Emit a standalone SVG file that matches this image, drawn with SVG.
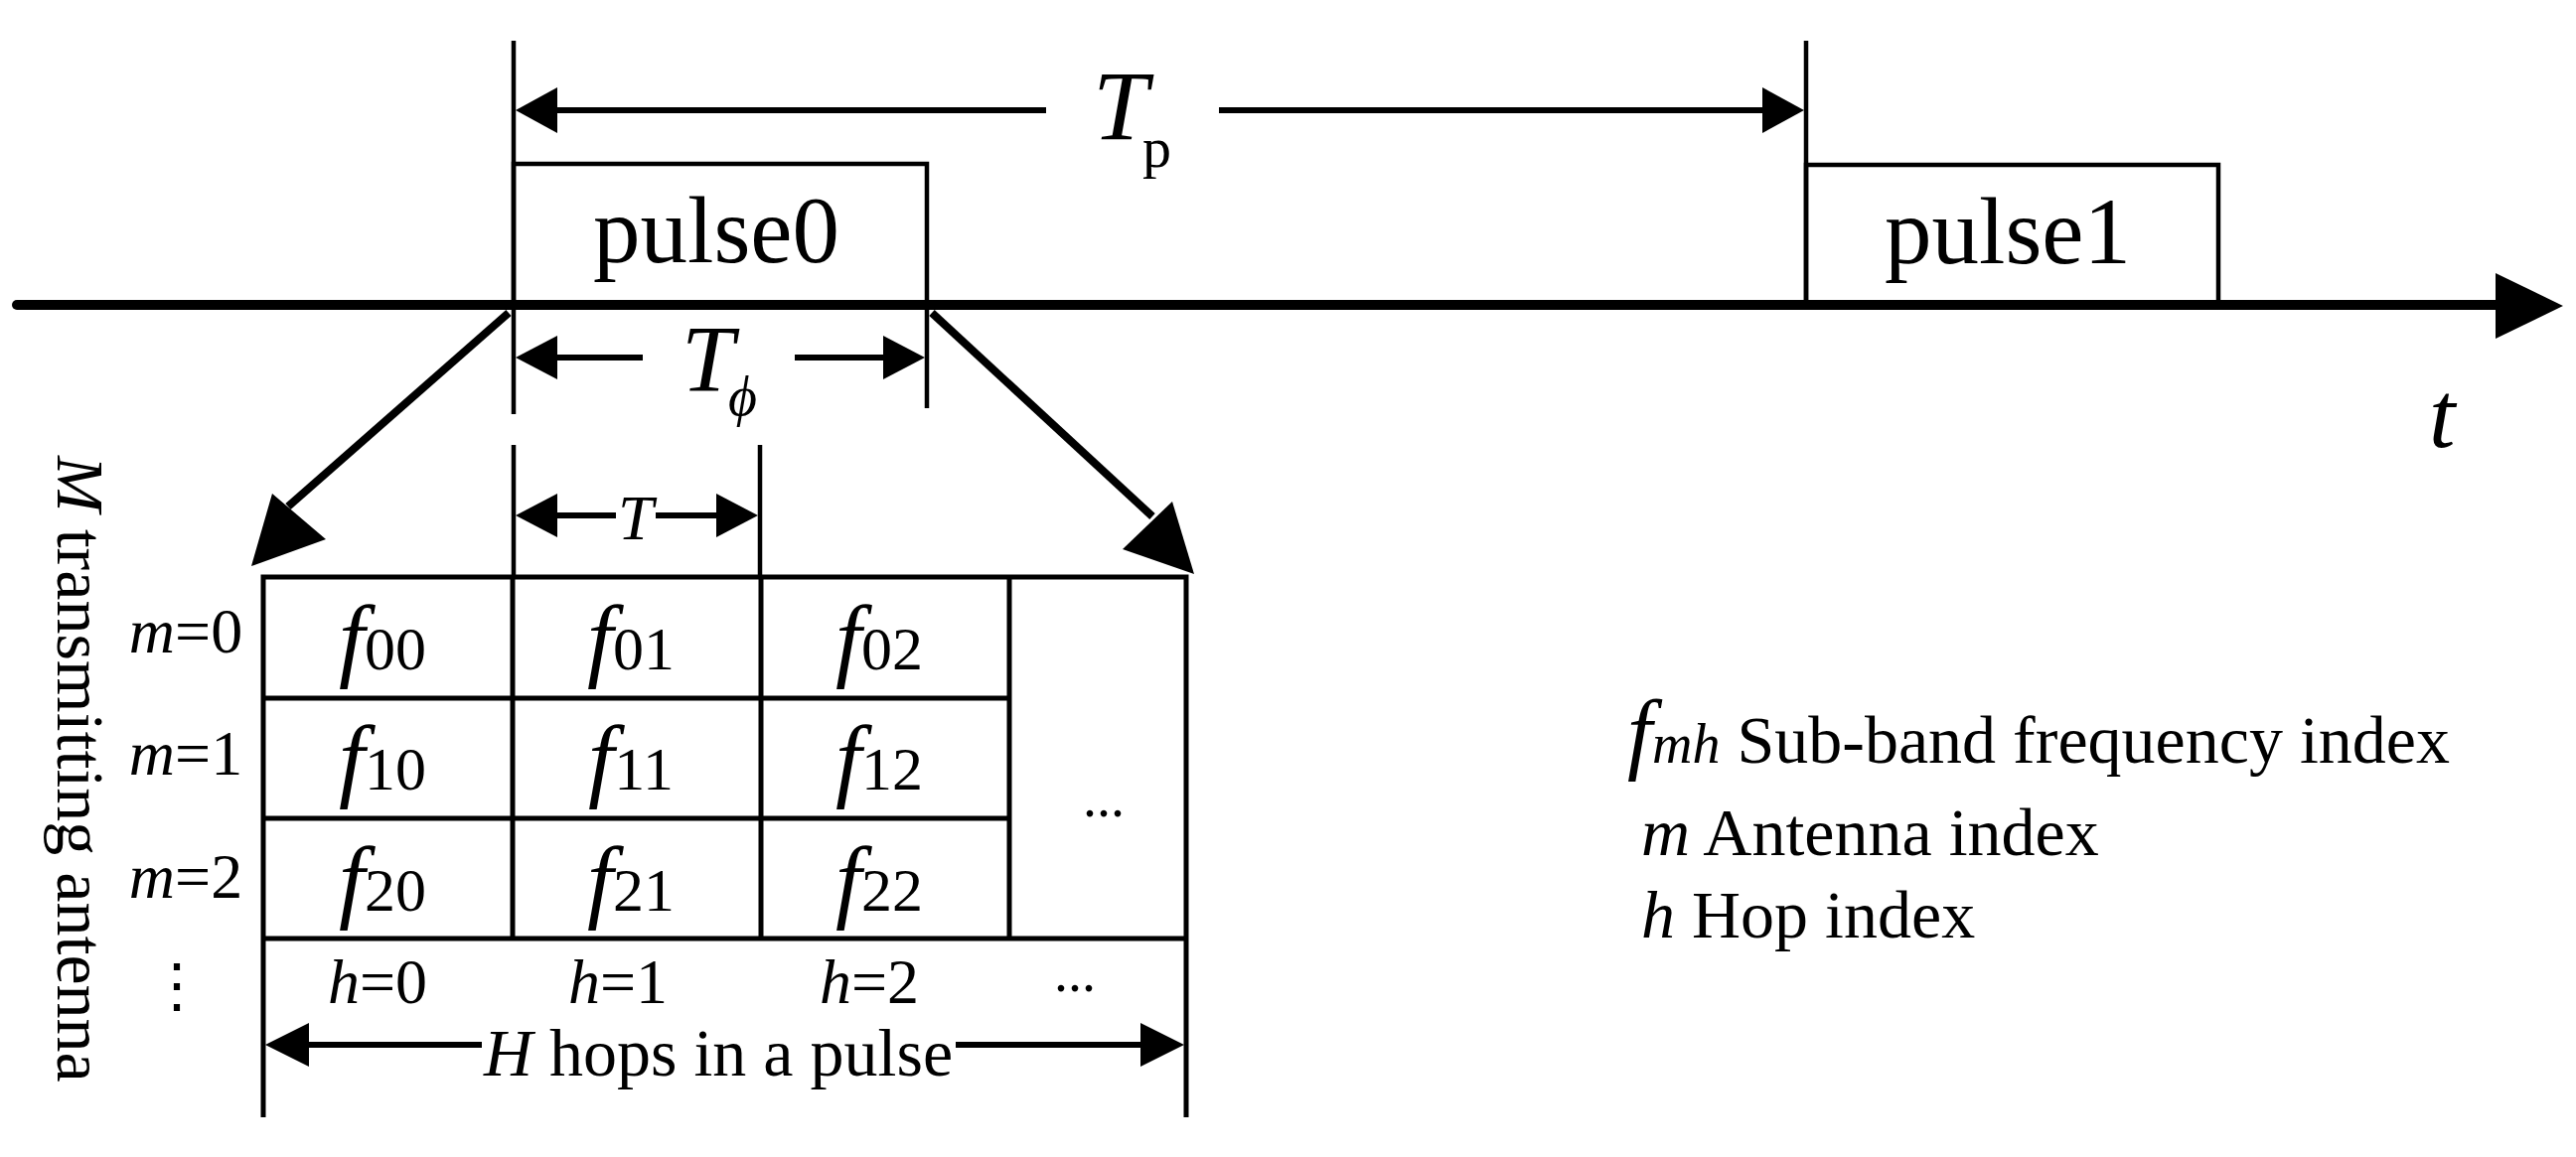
<svg xmlns="http://www.w3.org/2000/svg" width="2593" height="1165" viewBox="0 0 2593 1165">
<style>
text{font-family:"Liberation Serif","Times New Roman",serif;fill:#000}
.i{font-style:italic}
.thin{stroke:#000;stroke-width:4.5;fill:none}
.grid{stroke:#000;stroke-width:5;fill:none}
.ah{fill:#000}
</style>
<rect width="2593" height="1165" fill="#fff"/>
<g id="connectors">
<line x1="17" y1="307" x2="2520" y2="307" stroke="#000" stroke-width="10" stroke-linecap="round"/>
<path class="ah" d="M2580,308 L2512,275 L2512,341 Z"/>
<line class="thin" x1="517" y1="41" x2="517" y2="417"/>
<line class="thin" x1="1818" y1="41" x2="1818" y2="307"/>
<line class="thin" x1="933" y1="307" x2="933" y2="411"/>
<line x1="540" y1="111" x2="1053" y2="111" stroke="#000" stroke-width="6"/>
<line x1="1227" y1="111" x2="1795" y2="111" stroke="#000" stroke-width="6"/>
<path class="ah" d="M519,111 L561,88 L561,134 Z"/>
<path class="ah" d="M1816,111 L1774,88 L1774,134 Z"/>
<line x1="540" y1="360" x2="647" y2="360" stroke="#000" stroke-width="6"/>
<line x1="800" y1="360" x2="910" y2="360" stroke="#000" stroke-width="6"/>
<path class="ah" d="M519,360 L561,338 L561,382 Z"/>
<path class="ah" d="M931,360 L889,338 L889,382 Z"/>
<line class="thin" x1="517" y1="448" x2="517" y2="581"/>
<line class="thin" x1="765" y1="448" x2="765" y2="581"/>
<line x1="540" y1="519" x2="620" y2="519" stroke="#000" stroke-width="6"/>
<line x1="660" y1="519" x2="745" y2="519" stroke="#000" stroke-width="6"/>
<path class="ah" d="M519,519 L561,497 L561,541 Z"/>
<path class="ah" d="M763,519 L721,497 L721,541 Z"/>
<line x1="512" y1="315" x2="290" y2="510" stroke="#000" stroke-width="8"/>
<path class="ah" d="M253,570 L274,497 L328,543 Z"/>
<line x1="938" y1="315" x2="1160" y2="520" stroke="#000" stroke-width="8"/>
<path class="ah" d="M1202,578 L1130,553 L1180,505 Z"/>
<line x1="285" y1="1052" x2="485" y2="1052" stroke="#000" stroke-width="6"/>
<line x1="962" y1="1052" x2="1175" y2="1052" stroke="#000" stroke-width="6"/>
<path class="ah" d="M267,1052 L311,1030 L311,1074 Z"/>
<path class="ah" d="M1192,1052 L1148,1030 L1148,1074 Z"/>
</g>
<g id="pulse0">
<polyline class="thin" points="517,307 517,165 933,165 933,307"/>
<text x="721" y="264" font-size="95" text-anchor="middle">pulse0</text>
</g>
<g id="pulse1">
<polyline class="thin" points="1818,307 1818,166 2233,166 2233,307"/>
<text x="2021" y="265" font-size="95" text-anchor="middle">pulse1</text>
</g>
<g id="labels">
<text x="1100" y="140" font-size="100" class="i">T</text>
<text x="1150" y="168" font-size="58">p</text>
<text x="686" y="394" font-size="95" class="i">T</text>
<text x="733" y="418" font-size="56" class="i">ϕ</text>
<text x="622" y="543" font-size="64" class="i">T</text>
<text x="2445" y="450" font-size="95" class="i">t</text>
</g>
<g id="grid">
<polyline class="grid" points="265,1125 265,581 1194,581 1194,1125"/>
<line class="grid" x1="516" y1="581" x2="516" y2="945"/>
<line class="grid" x1="766" y1="581" x2="766" y2="945"/>
<line class="grid" x1="1016" y1="581" x2="1016" y2="945"/>
<line class="grid" x1="265" y1="703" x2="1016" y2="703"/>
<line class="grid" x1="265" y1="824" x2="1016" y2="824"/>
<line class="grid" x1="265" y1="945" x2="1194" y2="945"/>
<g font-size="94">
<text x="385" y="674" text-anchor="middle"><tspan class="i">f</tspan><tspan font-size="62">00</tspan></text>
<text x="635" y="674" text-anchor="middle"><tspan class="i">f</tspan><tspan font-size="62">01</tspan></text>
<text x="885" y="674" text-anchor="middle"><tspan class="i">f</tspan><tspan font-size="62">02</tspan></text>
<text x="385" y="795" text-anchor="middle"><tspan class="i">f</tspan><tspan font-size="62">10</tspan></text>
<text x="635" y="795" text-anchor="middle"><tspan class="i">f</tspan><tspan font-size="62">11</tspan></text>
<text x="885" y="795" text-anchor="middle"><tspan class="i">f</tspan><tspan font-size="62">12</tspan></text>
<text x="385" y="917" text-anchor="middle"><tspan class="i">f</tspan><tspan font-size="62">20</tspan></text>
<text x="635" y="917" text-anchor="middle"><tspan class="i">f</tspan><tspan font-size="62">21</tspan></text>
<text x="885" y="917" text-anchor="middle"><tspan class="i">f</tspan><tspan font-size="62">22</tspan></text>
</g>
<text x="1111" y="822" font-size="56" text-anchor="middle">...</text>
<g font-size="64">
<text x="187" y="657" text-anchor="middle"><tspan class="i">m</tspan>=0</text>
<text x="187" y="780" text-anchor="middle"><tspan class="i">m</tspan>=1</text>
<text x="187" y="904" text-anchor="middle"><tspan class="i">m</tspan>=2</text>
<text x="380" y="1010" text-anchor="middle"><tspan class="i">h</tspan>=0</text>
<text x="622" y="1010" text-anchor="middle"><tspan class="i">h</tspan>=1</text>
<text x="875" y="1010" text-anchor="middle"><tspan class="i">h</tspan>=2</text>
</g>
<text x="1082" y="998" font-size="56" text-anchor="middle">...</text>
<text x="178" y="1013" font-size="60" text-anchor="middle">⋮</text>
<text x="723" y="1083" font-size="68" text-anchor="middle"><tspan class="i">H</tspan> hops in a pulse</text>
<text transform="translate(58,459) rotate(90)" font-size="68"><tspan class="i">M</tspan> transmitting antenna</text>
</g>
<g id="legend" font-size="68">
<text x="1638" y="768"><tspan class="i" font-size="90">f</tspan><tspan class="i" font-size="56">mh</tspan> Sub-band frequency index</text>
<text x="1652" y="861"><tspan class="i">m</tspan> Antenna index</text>
<text x="1652" y="944"><tspan class="i">h</tspan> Hop index</text>
</g>
</svg>
